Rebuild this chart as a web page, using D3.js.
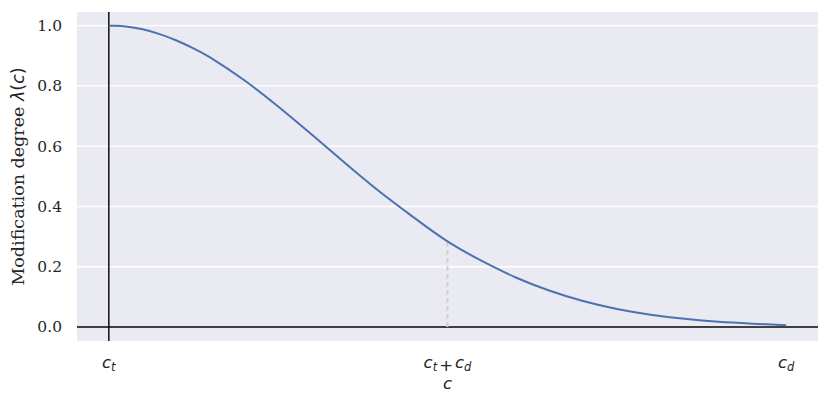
<!DOCTYPE html>
<html><head><meta charset="utf-8">
<script src="https://cdn.jsdelivr.net/npm/d3@7"></script>
<style>body{margin:0;background:#fff}svg{display:block}</style>
</head><body>
<svg id="chart" width="830" height="406"></svg>
<script>
// Data (x normalised: 0 = c_t, 1 = c_d)
const xValues = [0,0.01,0.025,0.05,0.075,0.1,0.125,0.15,0.2,0.25,0.3,0.35,0.4,0.45,0.5,0.55,0.6,0.65,0.7,0.75,0.8,0.85,0.9,0.95,1.0];
const lambdaValues = [1.000,0.9995,0.997,0.988,0.972,0.951,0.925,0.894,0.819,0.732,0.638,0.542,0.449,0.364,0.284,0.220,0.165,0.121,0.086,0.060,0.041,0.027,0.017,0.011,0.006];
const yTicks = [0,0.2,0.4,0.6,0.8,1.0];
const xTickPos = [0,0.5,1];
const xTickLabels = [["c","t"],["c","t","+","c","d"],["c","d"]];
const markerX = 0.5, markerY = 0.284;

const svg = d3.select("#chart");
const L=77,R=818,T=12,B=341;
const x = d3.scaleLinear().domain([-0.047,1.047]).range([L,R]);
const y = d3.scaleLinear().domain([-0.0465,1.0455]).range([B,T]);

svg.append("rect").attr("x",L).attr("y",T).attr("width",R-L).attr("height",B-T).attr("fill","#eaeaf2");

// grid
svg.append("g").selectAll("line").data(yTicks).join("line")
  .attr("x1",L).attr("x2",R).attr("y1",d=>y(d)).attr("y2",d=>y(d))
  .attr("stroke","#fff").attr("stroke-width",1.3);

// y axis ticks
const yAxis = d3.axisLeft(y).tickValues(yTicks).tickFormat(d3.format(".1f")).tickSize(0).tickPadding(15);
const ga = svg.append("g").attr("transform",`translate(${L},0)`).call(yAxis);
ga.select(".domain").remove();
ga.selectAll("text").attr("font-family","'DejaVu Serif'").attr("font-size","15.5px").attr("fill","#262626");

// x tick labels (math italic)
const xt = svg.append("g");
xTickPos.forEach((p,i)=>{
  const t = xt.append("text").attr("x",x(p)).attr("y",368).attr("text-anchor","middle")
    .attr("font-family","'DejaVu Sans'").attr("font-size","16.5px").attr("fill","#262626");
  const parts = xTickLabels[i];
  for(let k=0;k<parts.length;k++){
    const s = parts[k];
    if(s==="+"){ t.append("tspan").attr("font-style","normal").attr("dx","2").text("+"); }
    else if(s==="t"||s==="d"){ t.append("tspan").attr("font-style","italic").attr("font-size","11.5px").attr("dy","3").text(s); }
    else { const ts=t.append("tspan").attr("font-style","italic").text(s); if(k>0){ ts.attr("dy","-3").attr("dx","2"); } }
  }
});

// x label
svg.append("text").attr("x",x(0.5)).attr("y",389).attr("text-anchor","middle")
  .attr("font-family","'DejaVu Sans'").attr("font-style","italic").attr("font-size","16.5px").attr("fill","#262626").text("c");

// y label
const yl = svg.append("text").attr("transform",`translate(24,${(T+B)/2}) rotate(-90)`).attr("text-anchor","middle")
  .attr("font-family","'DejaVu Serif'").attr("font-size","17.5px").attr("fill","#262626");
yl.append("tspan").text("Modification degree ");
yl.append("tspan").attr("font-family","'DejaVu Sans'").attr("font-style","italic").text("λ");
yl.append("tspan").attr("font-family","'DejaVu Sans'").text("(");
yl.append("tspan").attr("font-family","'DejaVu Sans'").attr("font-style","italic").text("c");
yl.append("tspan").attr("font-family","'DejaVu Sans'").text(")");

// reference lines
svg.append("line").attr("x1",L).attr("x2",R).attr("y1",y(0)).attr("y2",y(0)).attr("stroke","#000").attr("stroke-width",1.4);
svg.append("line").attr("x1",x(0)).attr("x2",x(0)).attr("y1",T).attr("y2",B).attr("stroke","#000").attr("stroke-width",1.4);

// dashed marker
svg.append("line").attr("x1",x(markerX)).attr("x2",x(markerX)).attr("y1",y(0)).attr("y2",y(markerY))
  .attr("stroke","#d0d0d0").attr("stroke-width",2).attr("stroke-dasharray","5,3");

// curve
const data = xValues.map((v,i)=>({x:v,y:lambdaValues[i]}));
svg.append("path").datum(data)
  .attr("d",d3.line().x(d=>x(d.x)).y(d=>y(d.y)).curve(d3.curveNatural))
  .attr("fill","none").attr("stroke","#4c72b0").attr("stroke-width",2);
</script>
</body></html>
